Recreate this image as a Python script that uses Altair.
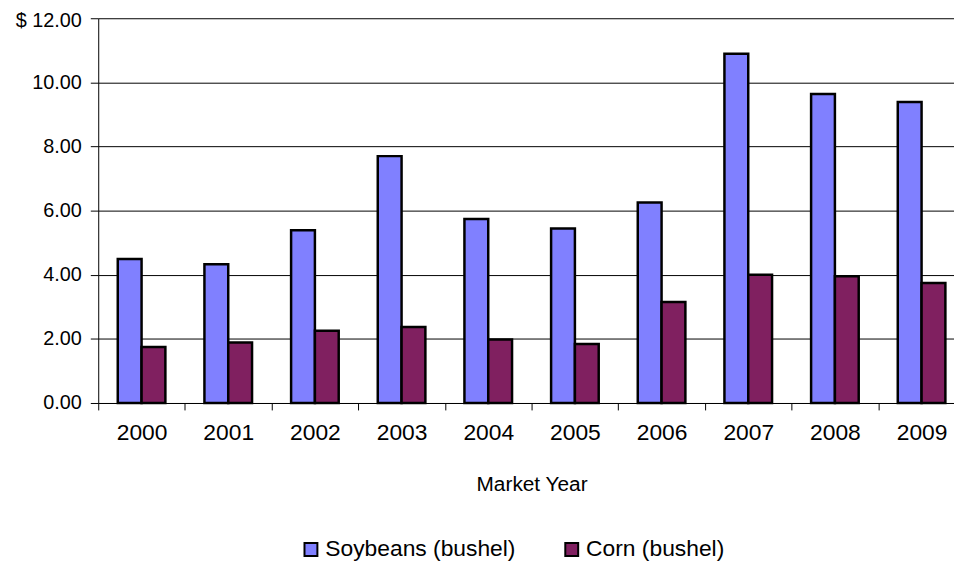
import altair as alt
import pandas as pd

years = ["2000", "2001", "2002", "2003", "2004", "2005", "2006", "2007", "2008", "2009"]
soybeans = [4.49, 4.33, 5.39, 7.70, 5.74, 5.44, 6.25, 10.89, 9.64, 9.39]
corn = [1.75, 1.89, 2.25, 2.37, 1.98, 1.84, 3.15, 4.00, 3.95, 3.74]
series = ["Soybeans (bushel)", "Corn (bushel)"]
colors = ["#8080FF", "#802060"]
y_ticks = [0, 2, 4, 6, 8, 10, 12]

rows = []
for i, yr in enumerate(years):
    rows.append({"year": yr, "series": series[0], "price": soybeans[i]})
    rows.append({"year": yr, "series": series[1], "price": corn[i]})
df = pd.DataFrame(rows)

FONT = "Liberation Sans"

chart = alt.Chart(df).mark_bar(stroke="black", strokeWidth=2.5).encode(
    x=alt.X(
        "year:N", sort=years,
        scale=alt.Scale(paddingInner=0, paddingOuter=0),
        axis=alt.Axis(
            title="Market Year", labelAngle=0, tickBand="extent", tickSize=7,
            tickColor="black", domainColor="black", labelColor="black",
            labelFontSize=23, labelBaseline="middle", labelPadding=23,
            titleFontSize=21, titleY=82, titleBaseline="middle",
            titleFontWeight="normal", titleColor="black", grid=False,
        ),
    ),
    xOffset=alt.XOffset("series:N", sort=series,
                        scale=alt.Scale(paddingInner=0, paddingOuter=0.82)),
    y=alt.Y(
        "price:Q", scale=alt.Scale(domain=[0, 12], nice=False),
        axis=alt.Axis(
            values=y_ticks,
            labelExpr="datum.value == 12 ? '$ 12.00' : format(datum.value, '.2f')",
            labelOffset={"condition": {"test": "datum.value == 12", "value": 2}, "value": 0},
            title=None, grid=True, gridColor="black", gridWidth=1,
            tickSize=8, tickColor="black", domainColor="black",
            labelPadding=9, labelFontSize=20, labelColor="black",
        ),
    ),
    color=alt.Color(
        "series:N", sort=series,
        scale=alt.Scale(domain=series, range=colors),
        legend=alt.Legend(
            title=None, orient="none", legendX=203, legendY=524,
            direction="horizontal", symbolType="square", symbolSize=169,
            symbolStrokeColor="black", symbolStrokeWidth=2, symbolOpacity=1,
            labelFontSize=23, labelOffset=3, columnPadding=45, padding=0,
            labelColor="black", labelLimit=500,
        ),
    ),
).properties(
    width=874, height=388,
    autosize=alt.AutoSizeParams(type="none"),
    padding={"left": 91, "top": 8, "right": -11, "bottom": 157},
).configure(font=FONT).configure_view(stroke=None)

chart.save("out.html", embed_options={"renderer": "svg", "actions": False})
